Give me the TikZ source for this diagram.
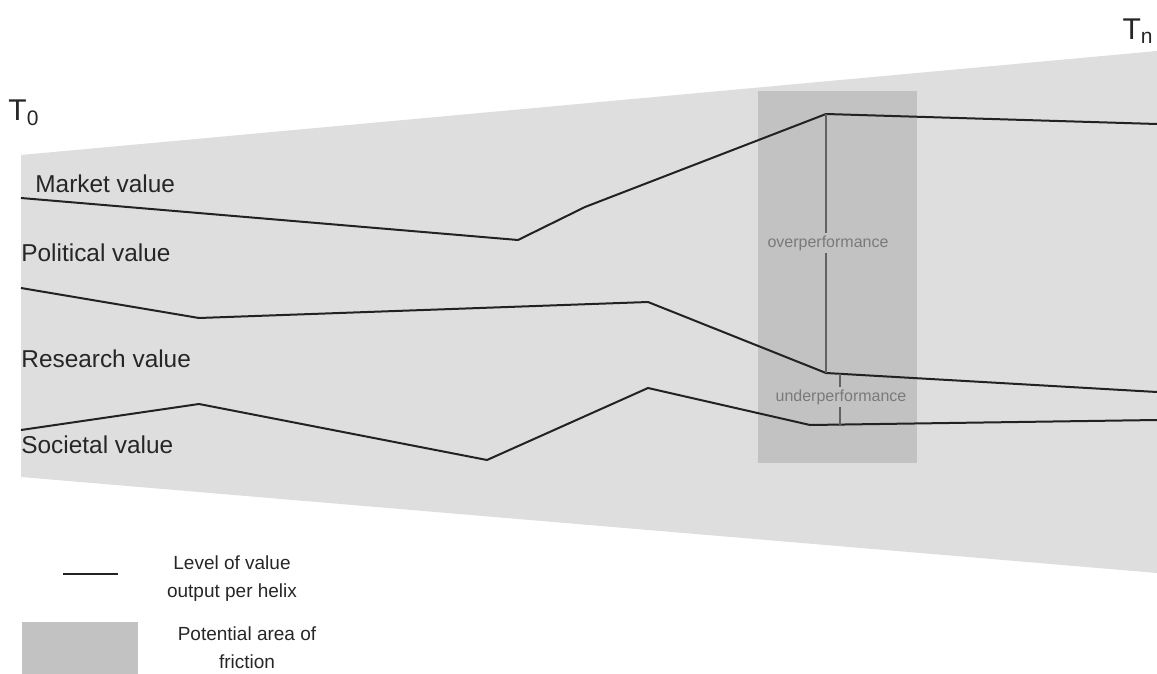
\documentclass[tikz,border=0pt]{standalone}
\usepackage{fontspec}
\setmainfont{Liberation Sans}
\usepackage{xcolor}
\definecolor{helixbg}{HTML}{DEDEDE}
\definecolor{frictiongray}{HTML}{C2C2C2}
\definecolor{helixline}{HTML}{222222}
\definecolor{gaptext}{HTML}{7A7A7A}
\usepackage{tikz}
\usetikzlibrary{positioning,calc}

\begin{document}
\begin{tikzpicture}[x=0.5pt, y=-0.5pt,
    every node/.style={align=center, inner sep=1pt},
    helix/.style={draw=helixline, line width=1pt, line join=round},
    gapline/.style={draw=gaptext!80!black, line width=0.6pt},
    gaplabel/.style={fill=frictiongray, text=gaptext, font=\fontsize{8}{9}\selectfont, inner sep=1.5pt},
    vlabel/.style={anchor=west, font=\fontsize{12.2}{14}\selectfont, text=black!85},
    timelabel/.style={font=\fontsize{15}{16}\selectfont, text=black!85},
    legendtext/.style={font=\fontsize{9.5}{14}\selectfont, text=black!85}]
  \useasboundingbox (0,0) rectangle (1157,674);

  % widening span of time
  \fill[helixbg] (21,155) -- (1157,51) -- (1157,573) -- (21,477) -- cycle;
  \fill[frictiongray] (758,91) rectangle (917,463);

  \node[timelabel] (t0) at (24,113) {T\textsubscript{0}};
  \node[timelabel] (tn) at (1138,31) {T\textsubscript{n}};

  % value levels
  \coordinate (mpeak) at (826,114);
  \coordinate (ppeak) at (826,373);
  \draw[helix] (21,198) -- (518,240) -- (585,207) -- (mpeak) -- (1157,124);
  \draw[helix] (21,288) -- (199,318) -- (648,302) -- (ppeak) -- (1157,392);
  \draw[helix] (21,430) -- (199,404) -- (487,460) -- (648,388) -- (810,425)
    -- (1157,420);

  \node[vlabel] (market) at (33,184) {Market value};
  \node[vlabel] (political) at (19,253) {Political value};
  \node[vlabel] (research) at (19,359) {Research value};
  \node[vlabel] (societal) at (19,445) {Societal value};

  % gaps between the helices
  \draw[gapline] (mpeak) -- (ppeak);
  \node[gaplabel] (over) at (828,243) {overperformance};
  \coordinate (utop) at (840,374);
  \coordinate (ubot) at (840,425);
  \draw[gapline] (utop) -- (ubot);
  \node[gaplabel] (under) at (841,397) {underperformance};

  % legend
  \coordinate (lstart) at (63,574);
  \coordinate (lend) at (118,574);
  \draw[helix] (lstart) -- (lend);
  \node[legendtext] (levelkey) at (232,579) {Level of value\\output per helix};
  \fill[frictiongray] (22,622) rectangle (138,674);
  \node[legendtext] (frictionkey) at (247,648) {Potential area of\\friction};
\end{tikzpicture}
\end{document}
